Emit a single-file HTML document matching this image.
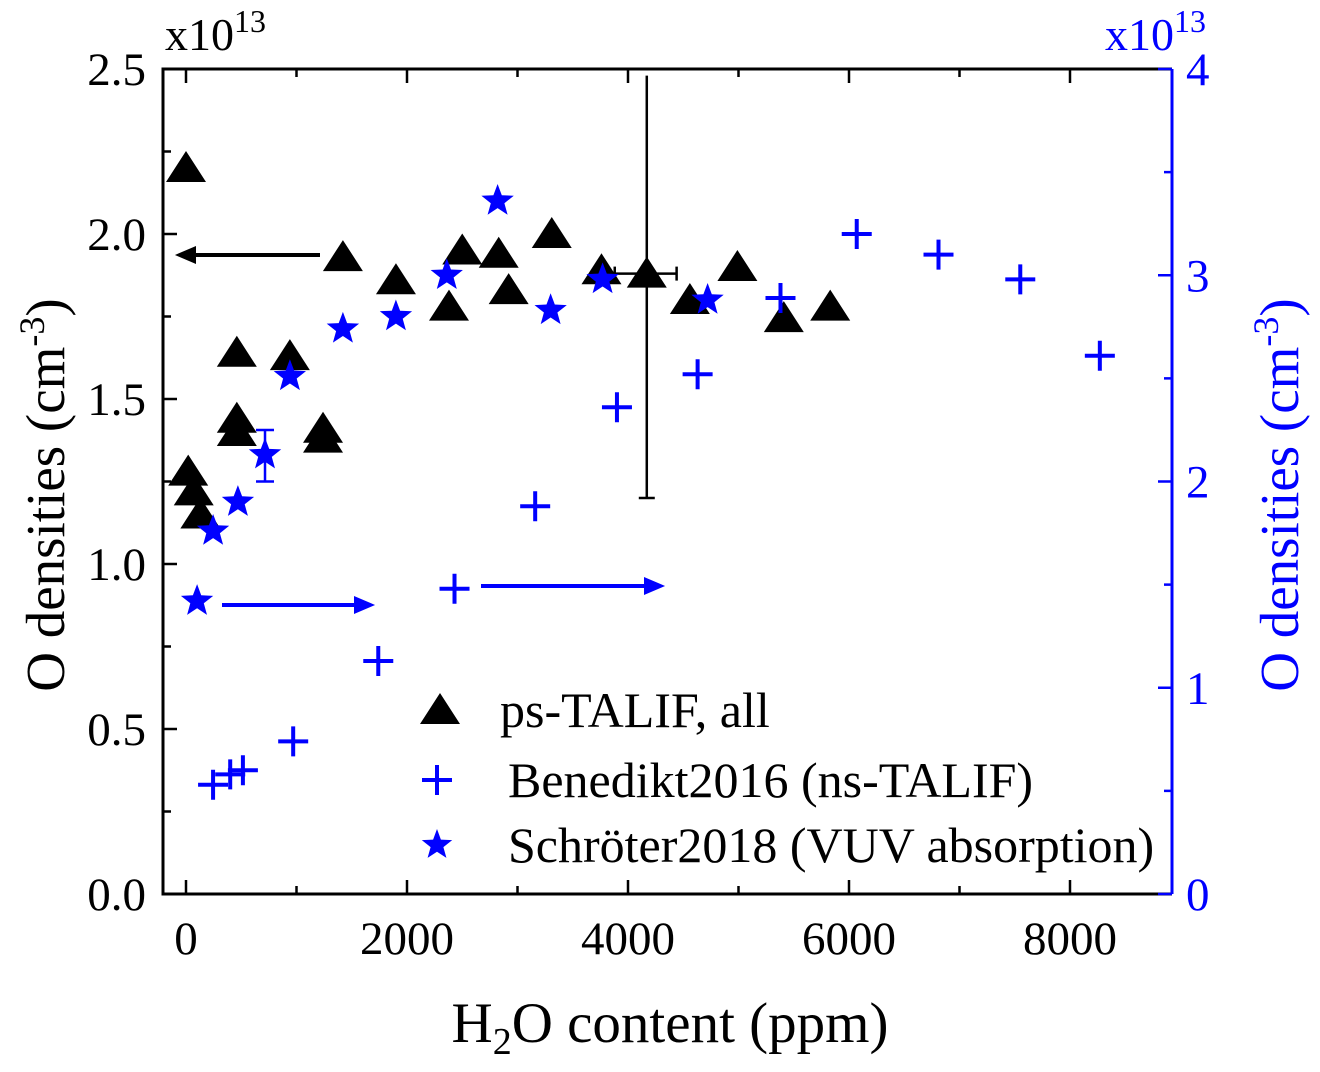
<!DOCTYPE html>
<html><head><meta charset="utf-8"><style>
html,body{margin:0;padding:0;background:#fff;}
svg text{font-family:"Liberation Serif",serif;}
</style></head><body>
<svg id="chart" width="1320" height="1067" viewBox="0 0 1320 1067" xmlns="http://www.w3.org/2000/svg"></svg>
<script>
// ---- data ----
const triX = [0,20,70,130,460,460,460,940,1240,1240,1420,1900,2380,2500,2830,2920,3310,3760,4170,4560,4990,5410,5830];
const triY = [2.20,1.28,1.22,1.15,1.64,1.44,1.40,1.63,1.41,1.38,1.93,1.86,1.78,1.95,1.94,1.83,2.00,1.89,1.88,1.80,1.90,1.745,1.78];
const plusX = [245,400,515,970,1740,2430,3160,3900,4630,5380,6070,6810,7550,8270];
const plusY = [0.53,0.58,0.60,0.74,1.13,1.48,1.88,2.36,2.52,2.89,3.20,3.10,2.98,2.61];
const starX = [100,245,470,715,940,1420,1900,2360,2820,3300,3770,4720];
const starY = [1.42,1.76,1.90,2.13,2.51,2.74,2.80,3.00,3.36,2.83,2.98,2.88];
const xTicks = [0,2000,4000,6000,8000];
const yLTicks = ["0.0","0.5","1.0","1.5","2.0","2.5"];
const yRTicks = ["0","1","2","3","4"];

// ---- axes ----
const L=163,R=1172,T=69,B=894;
const X0=186, XS=0.1105;
const sx=v=>X0+v*XS;
const syL=v=>B-(v/2.5)*(B-T);
const syR=v=>B-(v/4)*(B-T);
const svg=document.getElementById('chart');
const NS='http://www.w3.org/2000/svg';
function mk(tag,attrs,parent){const e=document.createElementNS(NS,tag);for(const k in attrs)e.setAttribute(k,attrs[k]);(parent||svg).appendChild(e);return e;}
function txt(s,attrs,parent){const e=mk('text',attrs,parent);e.textContent=s;return e;}

let f=mk('path',{d:`M${R},${T} L${L},${T} L${L},${B} L${R},${B}`,fill:'none',stroke:'#000','stroke-width':3});

let rs=mk('line',{x1:R,y1:T,x2:R,y2:B,stroke:'#00f','stroke-width':3});


for(let v=0;v<=8000;v+=1000){const x=sx(v);const maj=v%2000===0;
  mk('line',{x1:x,y1:B,x2:x,y2:B-(maj?14:8),stroke:'#000','stroke-width':2.5});
  mk('line',{x1:x,y1:T,x2:x,y2:T+(maj?14:8),stroke:'#000','stroke-width':2.5});}
xTicks.forEach(v=>{const t=txt(String(v),{x:sx(v),y:954,'font-size':47,'text-anchor':'middle'});
  });
for(let v=0;v<=2.5001;v+=0.25){const y=syL(v);const maj=Math.abs(v*2-Math.round(v*2))<1e-6;
  mk('line',{x1:L,y1:y,x2:L+(maj?14:8),y2:y,stroke:'#000','stroke-width':2.5});}
yLTicks.forEach(s=>{const t=txt(s,{x:146,y:syL(+s)+16,'font-size':47,'text-anchor':'end'});
  });
for(let v=0;v<=4.001;v+=0.5){const y=syR(v);const maj=Math.abs(v-Math.round(v))<1e-6;
  mk('line',{x1:R,y1:y,x2:R-(maj?14:8),y2:y,stroke:'#00f','stroke-width':2.5});}
yRTicks.forEach(s=>{const t=txt(s,{x:1186,y:syR(+s)+16,'font-size':47,fill:'#00f'});
  });

let m1=txt('',{x:165,y:50,'font-size':46});m1.innerHTML='x10<tspan dy="-18" font-size="32">13</tspan>';

let m2=txt('',{x:1105,y:50,'font-size':46,fill:'#00f'});m2.innerHTML='x10<tspan dy="-18" font-size="32">13</tspan>';


let yl=txt('',{x:0,y:0,'font-size':55,'text-anchor':'middle',transform:'translate(64,495) rotate(-90)'});
yl.innerHTML='O densities (cm<tspan dy="-20" font-size="36">-3</tspan><tspan dy="20">)</tspan>';

let yr=txt('',{x:0,y:0,'font-size':55,'text-anchor':'middle',fill:'#00f',transform:'translate(1298,495) rotate(-90)'});
yr.innerHTML='O densities (cm<tspan dy="-20" font-size="36">-3</tspan><tspan dy="20">)</tspan>';

let xl=txt('',{x:670,y:1042,'font-size':57,'text-anchor':'middle'});
xl.innerHTML='H<tspan dy="12" font-size="38">2</tspan><tspan dy="-12">O content (ppm)</tspan>';


function tri(x,y,g){return mk('polygon',{points:`${x},${y-17} ${x-20},${y+14} ${x+20},${y+14}`,fill:'#000'},g);}
function star(x,y,r,g){let p=[];for(let i=0;i<10;i++){const a=-Math.PI/2+i*Math.PI/5;const rr=i%2?r*0.42:r;p.push((x+rr*Math.cos(a)).toFixed(1)+','+(y+rr*Math.sin(a)).toFixed(1));}
  return mk('polygon',{points:p.join(' '),fill:'#00f'},g);}

let eb=mk('g',{stroke:'#000','stroke-width':2.5});
{const x=sx(4170);mk('line',{x1:x,y1:syL(2.48),x2:x,y2:syL(1.2)},eb);mk('line',{x1:x-8,y1:syL(1.2),x2:x+8,y2:syL(1.2)},eb);
 mk('line',{x1:sx(3880),y1:syL(1.88),x2:sx(4440),y2:syL(1.88)},eb);mk('line',{x1:sx(4440),y1:syL(1.88)-7,x2:sx(4440),y2:syL(1.88)+7},eb);mk('line',{x1:sx(3880),y1:syL(1.88)-7,x2:sx(3880),y2:syL(1.88)+7},eb);}
let eb2=mk('g',{stroke:'#00f','stroke-width':2.5});
{const x=sx(715);mk('line',{x1:x,y1:syR(2.25),x2:x,y2:syR(2.0)},eb2);mk('line',{x1:x-9,y1:syR(2.25),x2:x+9,y2:syR(2.25)},eb2);mk('line',{x1:x-9,y1:syR(2.0),x2:x+9,y2:syR(2.0)},eb2);}

let gT=mk('g',{});
triX.forEach((v,i)=>{const e=tri(sx(v),syL(triY[i]),gT);});
let gP=mk('g',{});
plusX.forEach((v,i)=>{const x=sx(v),y=syR(plusY[i]);const e=mk('path',{d:`M${x-15},${y} H${x+15} M${x},${y-15} V${y+15}`,stroke:'#00f','stroke-width':4,fill:'none'},gP);
  });
let gS=mk('g',{});
starX.forEach((v,i)=>{const e=star(sx(v),syR(starY[i]),17,gS);});

function arrow(x1,x2,y,c,name){const g=mk('g',{stroke:c,'stroke-width':4,fill:'none'});
  
  mk('line',{x1:x1,y1:y,x2:x2,y2:y},g);const d=x2>x1?-1:1;
  mk('polygon',{points:`${x2},${y} ${x2+d*14},${y-6} ${x2+d*14},${y+6}`,fill:c},g);}
arrow(320,180,255,'#000','left-axis-arrow');
arrow(222,370,605,'#00f','right-axis-arrow-1');
arrow(481,660,586,'#00f','right-axis-arrow-2');

let lg=mk('g',{});
let l1=mk('g',{},lg);
tri(440,710,l1);txt('ps-TALIF, all',{x:500,y:727,'font-size':50},l1);
let l2=mk('g',{},lg);
mk('path',{d:'M422,780 H452 M437,765 V795',stroke:'#00f','stroke-width':4},l2);txt('Benedikt2016 (ns-TALIF)',{x:508,y:797,'font-size':50},l2);
let l3=mk('g',{},lg);
star(437,845,16,l3);txt('Schröter2018 (VUV absorption)',{x:508,y:862,'font-size':50},l3);
</script>
</body></html>
